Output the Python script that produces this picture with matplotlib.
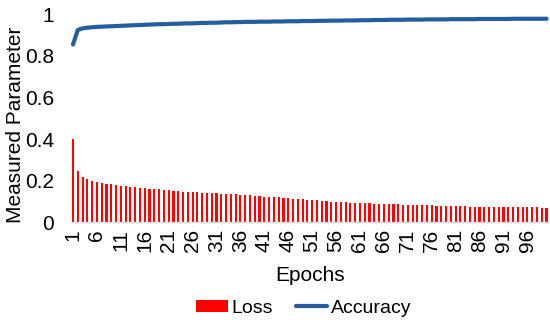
import matplotlib
matplotlib.use("Agg")
import matplotlib.pyplot as plt
import numpy as np

epochs = list(range(1, 101))
loss = [0.401, 0.246, 0.217, 0.206, 0.198, 0.193, 0.187, 0.184, 0.181, 0.177,
        0.176, 0.173, 0.170, 0.168, 0.165, 0.162, 0.160, 0.157, 0.157, 0.155,
        0.154, 0.152, 0.149, 0.147, 0.146, 0.143, 0.143, 0.141, 0.141, 0.138,
        0.138, 0.136, 0.135, 0.133, 0.133, 0.132, 0.130, 0.128, 0.126, 0.125,
        0.123, 0.122, 0.120, 0.119, 0.116, 0.114, 0.113, 0.111, 0.109, 0.108,
        0.106, 0.104, 0.103, 0.101, 0.099, 0.098, 0.096, 0.095, 0.094, 0.093,
        0.092, 0.091, 0.090, 0.089, 0.088, 0.087, 0.086, 0.085, 0.085, 0.084,
        0.083, 0.082, 0.082, 0.081, 0.080, 0.080, 0.079, 0.079, 0.078, 0.077,
        0.077, 0.076, 0.076, 0.075, 0.075, 0.074, 0.074, 0.074, 0.073, 0.073,
        0.073, 0.072, 0.072, 0.072, 0.071, 0.071, 0.071, 0.071, 0.070, 0.070]
accuracy = [0.855, 0.925, 0.933, 0.936, 0.938, 0.940, 0.941, 0.942, 0.943, 0.944,
            0.945, 0.946, 0.947, 0.948, 0.949, 0.950, 0.951, 0.952, 0.953, 0.953,
            0.954, 0.955, 0.955, 0.956, 0.957, 0.957, 0.958, 0.959, 0.959, 0.960,
            0.960, 0.961, 0.962, 0.962, 0.963, 0.963, 0.964, 0.964, 0.964, 0.965,
            0.965, 0.965, 0.966, 0.966, 0.966, 0.967, 0.967, 0.967, 0.968, 0.968,
            0.968, 0.969, 0.969, 0.969, 0.970, 0.970, 0.970, 0.971, 0.971, 0.971,
            0.972, 0.972, 0.972, 0.973, 0.973, 0.973, 0.974, 0.974, 0.974, 0.974,
            0.975, 0.975, 0.975, 0.975, 0.976, 0.976, 0.976, 0.976, 0.976, 0.977,
            0.977, 0.977, 0.977, 0.977, 0.977, 0.978, 0.978, 0.978, 0.978, 0.978,
            0.978, 0.978, 0.979, 0.979, 0.979, 0.979, 0.979, 0.979, 0.979, 0.979]
xtick_labels = [str(e) for e in range(1, 101, 5)]
yticks = [0, 0.2, 0.4, 0.6, 0.8, 1]
ytick_labels = ["0", "0.2", "0.4", "0.6", "0.8", "1"]

plt.rcParams['font.family'] = ['Liberation Sans', 'DejaVu Sans']
fs = 14

fig = plt.figure(figsize=(5.5, 3.2), dpi=100)
ax = fig.add_axes([0.1284, 0.306, 0.8696, 0.649])

bars = ax.bar(epochs, loss, width=0.45, color='#FF0000', label='Loss', zorder=2)
line, = ax.plot(epochs, accuracy, color='#255E9F', lw=3, label='Accuracy', zorder=3,
                solid_capstyle='round')

ax.set_xlim(0.5, 100.5)
ax.set_ylim(0, 1)
ax.set_yticks(yticks)
ax.set_yticklabels(ytick_labels, fontsize=15)
ax.set_xticks(list(range(1, 101, 5)))
ax.set_xticklabels(xtick_labels, rotation=90, fontsize=15)
ax.tick_params(axis='y', length=0, pad=12)
ax.tick_params(axis='x', length=0, pad=5)

for s in ['top', 'right', 'left']:
    ax.spines[s].set_visible(False)
ax.spines['bottom'].set_color('#D9D9D9')
ax.spines['bottom'].set_linewidth(1)

ax.set_ylabel('Measured Parameter', fontsize=15)
ax.yaxis.set_label_coords(-0.095, 0.47)
ax.set_xlabel('Epochs', fontsize=15, labelpad=10)

leg = fig.legend([bars, line], ['Loss', 'Accuracy'], loc='center',
                 bbox_to_anchor=(0.553, 0.036), ncol=2,
                 frameon=False, fontsize=fs, handlelength=1.6, handleheight=0.6,
                 columnspacing=1.2, handletextpad=0.2)

fig.savefig('out.png', dpi=100)
